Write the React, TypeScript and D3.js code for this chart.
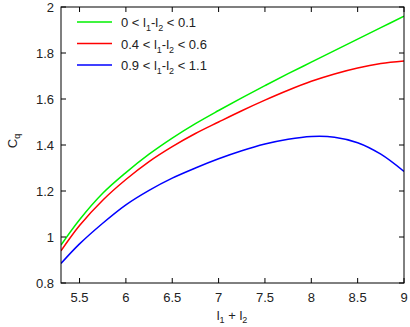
import React from "react";
import * as d3 from "d3";

const xs = [5.3, 5.5, 5.75, 6, 6.25, 6.5, 6.75, 7, 7.25, 7.5, 7.75, 8, 8.25, 8.5, 8.75, 9];
const greenVals = [0.965, 1.075, 1.19, 1.28, 1.36, 1.43, 1.493, 1.55, 1.605, 1.658, 1.71, 1.76, 1.81, 1.86, 1.91, 1.96];
const redVals = [0.94, 1.05, 1.16, 1.25, 1.328, 1.393, 1.45, 1.5, 1.549, 1.595, 1.638, 1.677, 1.709, 1.735, 1.754, 1.765];
const blueVals = [0.885, 0.97, 1.06, 1.14, 1.203, 1.256, 1.3, 1.34, 1.375, 1.404, 1.425, 1.437, 1.434, 1.41, 1.36, 1.285];

const xTicks = [5.5, 6, 6.5, 7, 7.5, 8, 8.5, 9];
const yTicks = [0.8, 1, 1.2, 1.4, 1.6, 1.8, 2];

const series = [
  { name: ["0 < l", "1", "-l", "2", " < 0.1"], color: "#00f000", values: greenVals },
  { name: ["0.4 < l", "1", "-l", "2", " < 0.6"], color: "#ff0000", values: redVals },
  { name: ["0.9 < l", "1", "-l", "2", " < 1.1"], color: "#0000ff", values: blueVals },
];

const W = 410;
const H = 327;
const left = 61, right = 404, top = 7, bottom = 283;
const font = "Liberation Sans, Arial, sans-serif";

export default function App() {
  const x = d3.scaleLinear().domain([5.3, 9]).range([left, right]);
  const y = d3.scaleLinear().domain([0.8, 2]).range([bottom, top]);
  const line = d3
    .line<number>()
    .x((_, i) => x(xs[i]))
    .y((d) => y(d))
    .curve(d3.curveCatmullRom);

  return (
    <svg width={W} height={H} style={{ position: "absolute", left: 0, top: 0 }} fontFamily={font}>
      <rect x={0} y={0} width={W} height={H} fill="white" />
      <defs>
        <clipPath id="plot">
          <rect x={left} y={top} width={right - left} height={bottom - top} />
        </clipPath>
      </defs>
      {series.map((s) => (
        <path
          key={s.color}
          d={line(s.values) || ""}
          fill="none"
          stroke={s.color}
          strokeWidth={1.5}
          clipPath="url(#plot)"
        />
      ))}
      <rect x={left} y={top} width={right - left} height={bottom - top} fill="none" stroke="#000" strokeWidth={1} />
      {xTicks.map((t) => (
        <g key={"x" + t}>
          <line x1={x(t)} x2={x(t)} y1={bottom} y2={bottom - 5} stroke="#000" />
          <line x1={x(t)} x2={x(t)} y1={top} y2={top + 5} stroke="#000" />
          <text x={x(t)} y={302} fontSize={13} textAnchor="middle" fill="#222">
            {t}
          </text>
        </g>
      ))}
      {yTicks.map((t) => (
        <g key={"y" + t}>
          <line x1={left} x2={left + 5} y1={y(t)} y2={y(t)} stroke="#000" />
          <line x1={right} x2={right - 5} y1={y(t)} y2={y(t)} stroke="#000" />
          <text x={54} y={y(t) + 5} fontSize={13} textAnchor="end" fill="#222">
            {t}
          </text>
        </g>
      ))}
      <text x={232} y={320} fontSize={13} textAnchor="middle" fill="#222">
        l<tspan fontSize={9} dy={3}>1</tspan>
        <tspan dy={-3}> + l</tspan>
        <tspan fontSize={9} dy={3}>2</tspan>
      </text>
      <text transform={`translate(17,141) rotate(-90)`} fontSize={13} textAnchor="middle" fill="#222">
        C<tspan fontSize={9} dy={3}>q</tspan>
      </text>
      {series.map((s, i) => (
        <g key={"leg" + i} transform={`translate(0,${22 + i * 21.5})`}>
          <line x1={77} x2={112} y1={0} y2={0} stroke={s.color} strokeWidth={1.5} />
          <text x={121} y={5} fontSize={13} fill="#222">
            {s.name[0]}
            <tspan fontSize={9} dy={4}>{s.name[1]}</tspan>
            <tspan dy={-4}>{s.name[2]}</tspan>
            <tspan fontSize={9} dy={4}>{s.name[3]}</tspan>
            <tspan dy={-4}>{s.name[4]}</tspan>
          </text>
        </g>
      ))}
    </svg>
  );
}
